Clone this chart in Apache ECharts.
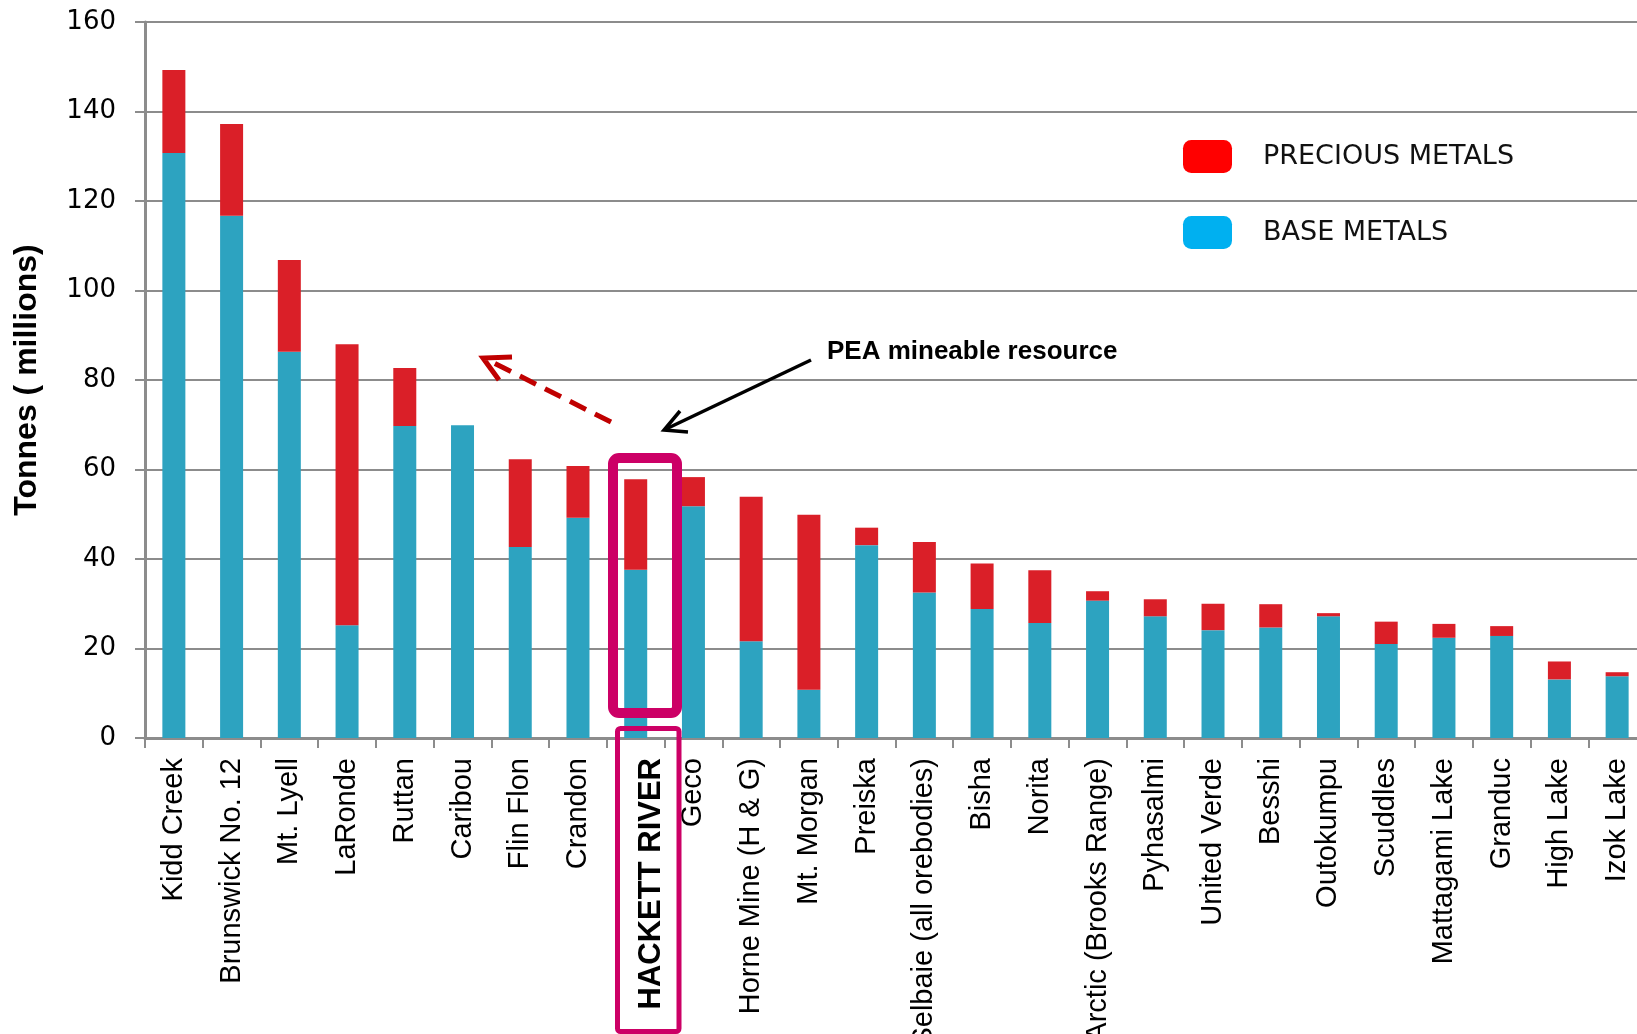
<!DOCTYPE html>
<html>
<head>
<meta charset="utf-8">
<script src="https://cdn.jsdelivr.net/npm/echarts@6/dist/echarts.min.js"></script>
<style>
html,body{margin:0;padding:0;background:#fff;}
#chart{width:1637px;height:1034px;}
</style>
</head>
<body>
<div id="chart"></div>
<script>
const categories = ["Kidd Creek","Brunswick No. 12","Mt. Lyell","LaRonde","Ruttan","Caribou","Flin Flon","Crandon","HACKETT RIVER","Geco","Horne Mine (H & G)","Mt. Morgan","Preiska","Selbaie (all orebodies)","Bisha","Norita","Arctic (Brooks Range)","Pyhasalmi","United Verde","Besshi","Outokumpu","Scuddles","Mattagami Lake","Granduc","High Lake","Izok Lake"];
const baseMetals = [130.7,116.7,86.3,25.2,69.7,69.9,42.7,49.2,37.6,51.8,21.6,10.8,43.1,32.5,28.8,25.7,30.7,27.2,24.1,24.7,27.2,21.0,22.4,22.8,13.1,13.8];
const preciousMetals = [18.6,20.5,20.5,62.8,13.0,0,19.6,11.6,20.2,6.5,32.3,39.1,3.9,11.3,10.2,11.8,2.1,3.8,5.9,5.2,0.7,5.0,3.1,2.2,4.0,0.9];
const yTicks = [0,20,40,60,80,100,120,140,160];
const highlight = "HACKETT RIVER";

const chart = echarts.init(document.getElementById('chart'));
const gray = '#8c8c8c';
const option = {
  animation: false,
  backgroundColor: '#ffffff',
  grid: {left: 145, top: 22, bottom: 296, right: -9, containLabel: false, outerBoundsMode: 'none'},
  legend: {
    orient: 'vertical', left: 1183, top: 140, padding: 0,
    itemWidth: 49, itemHeight: 33, itemGap: 43, icon: 'roundRect',
    textStyle: {fontFamily: 'DejaVu Sans', fontSize: 27, color: '#111', padding: [0,0,0,26]},
    data: [
      {name: 'PRECIOUS METALS', itemStyle: {color: '#FF0000'}},
      {name: 'BASE METALS', itemStyle: {color: '#00B0F0'}}
    ]
  },
  xAxis: {
    type: 'category', data: categories,
    axisLine: {lineStyle: {color: gray, width: 3}},
    axisTick: {show: true, length: 10, interval: 0, lineStyle: {color: gray, width: 2}},
    axisLabel: {
      interval: 0, rotate: 90, margin: 20, color: '#000',
      fontFamily: 'Liberation Sans', fontSize: 29,
      formatter: v => v === highlight ? '{h|' + v + '}' : v,
      rich: {h: {fontFamily: 'Liberation Sans', fontSize: 31, fontWeight: 'bold', color: '#000', padding: [32,0,0,0]}}
    }
  },
  yAxis: {
    type: 'value', min: yTicks[0], max: yTicks[yTicks.length-1], interval: 20,
    name: 'Tonnes ( millions)', nameLocation: 'middle', nameGap: 102,
    nameTextStyle: {fontFamily: 'Liberation Sans', fontSize: 32, fontWeight: 'bold', color: '#000', padding: [0,0,0,0]},
    axisLine: {show: true, lineStyle: {color: gray, width: 3}},
    axisTick: {show: true, length: 10, lineStyle: {color: gray, width: 2}},
    axisLabel: {margin: 29, color: '#000', fontFamily: 'DejaVu Sans', fontSize: 26},
    splitLine: {show: true, lineStyle: {color: gray, width: 2}}
  },
  series: [
    {name: 'BASE METALS', type: 'bar', stack: 'total', data: baseMetals, barWidth: 23,
     itemStyle: {color: '#2DA3C0'}},
    {name: 'PRECIOUS METALS', type: 'bar', stack: 'total', data: preciousMetals, barWidth: 23,
     itemStyle: {color: '#DA1F28'}}
  ],
  graphic: [
    {type: 'line', shape: {x1: 611, y1: 422, x2: 488, y2: 360}, style: {stroke: '#C00000', lineWidth: 5, lineDash: [18, 10]}, z: 100},
    {type: 'polyline', shape: {points: [[512,357],[483,358],[499,380]]}, style: {stroke: '#C00000', lineWidth: 5, fill: null, lineJoin: 'miter'}, z: 100},
    {type: 'line', shape: {x1: 811, y1: 360, x2: 666, y2: 429}, style: {stroke: '#000', lineWidth: 3.5}, z: 100},
    {type: 'polyline', shape: {points: [[680,411],[664,430],[688,432]]}, style: {stroke: '#000', lineWidth: 3.5, fill: null}, z: 100},
    {type: 'text', x: 827, y: 352, style: {text: 'PEA mineable resource', font: 'bold 26px "Liberation Sans"', fill: '#000', verticalAlign: 'middle', textAlign: 'left'}, z: 100},
    {type: 'rect', shape: {x: 613, y: 458, width: 64, height: 255, r: 6}, style: {stroke: '#CC0066', lineWidth: 10, fill: null}, z: 100},
    {type: 'rect', shape: {x: 617.5, y: 728.5, width: 61.5, height: 303, r: 3}, style: {stroke: '#CC0066', lineWidth: 5, fill: null}, z: 100}
  ]
};
chart.setOption(option);
</script>
</body>
</html>
